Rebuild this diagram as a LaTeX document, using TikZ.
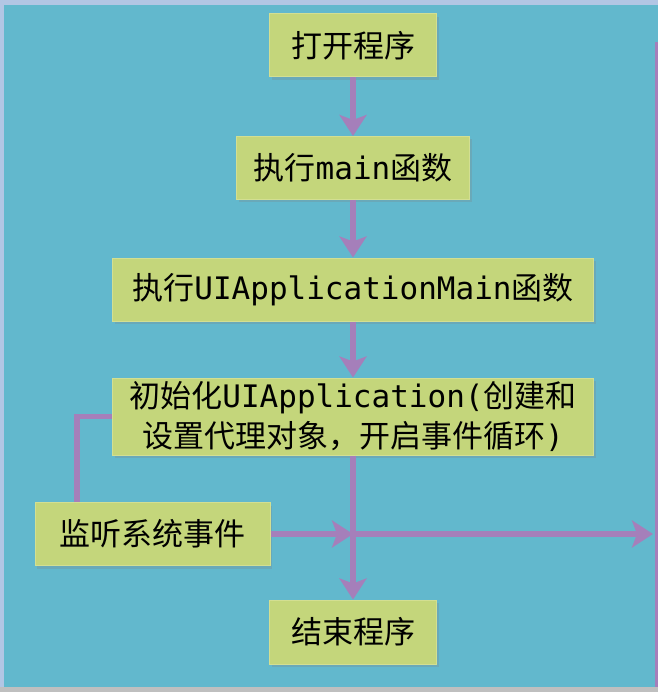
\documentclass[tikz,border=0pt]{standalone}
\usepackage{fontspec}
\setmainfont{Noto Sans CJK SC}
\setmonofont{DejaVu Sans Mono}
\usetikzlibrary{arrows.meta,shadows}

\definecolor{bgblue}{HTML}{62B8CD}
\definecolor{bgedge}{HTML}{B2C6E4}
\definecolor{boxfill}{HTML}{C4D67B}
\definecolor{boxline}{HTML}{D3DF92}
\definecolor{flowpurple}{HTML}{A57FBA}

\begin{document}
\begin{tikzpicture}[x=1pt,y=-1pt,>={Stealth[length=21pt,width=27pt,inset=5pt]}]

% ----------------------------
% Styles
% ----------------------------
\tikzset{
	stepbox/.style={draw=boxline,line width=1pt,fill=boxfill,inner sep=0pt,
		minimum height=63pt,align=center,text=black,
		font=\fontsize{31}{40}\selectfont,
		drop shadow={opacity=0.25,shadow xshift=2pt,shadow yshift=-3pt}},
	flow/.style={->,line width=5.5pt,draw=flowpurple},
	back/.style={line width=5.5pt,draw=flowpurple}
}

\useasboundingbox (0,0) rectangle (658,692);

% background panel
\fill[bgedge] (0,0) rectangle (658,692);
\fill[bgblue] (4,5) rectangle (658,687);
\fill[black!25] (0,687) rectangle (658,692);
\fill[flowpurple] (655,42) rectangle (658,687);

% ============================================================
% Steps
% ============================================================
\node[stepbox,minimum width=167pt] (open)   at (353,45.5)  {打开程序};
\node[stepbox,minimum width=233pt] (mainf)  at (353,168)   {执行\texttt{main}函数};
\node[stepbox,minimum width=481pt] (uiam)   at (353,289.5) {执行\texttt{UIApplicationMain}函数};
\node[stepbox,minimum width=481pt,minimum height=77pt] (init) at (353,416.5)
	{初始化\texttt{UIApplication(}创建和\\设置代理对象，开启事件循环\texttt{)}};
\node[stepbox,minimum width=235pt] (listen) at (152.5,534) {监听系统事件};
\node[stepbox,minimum width=167pt,minimum height=64pt] (quit) at (353,632) {结束程序};

% ============================================================
% Connectors
% ============================================================
\coordinate (cross) at (353,534);
\coordinate (exit)  at (653,534);
\coordinate (fb)    at (77,417);

\draw[flow] (open) -- (mainf);
\draw[flow] (mainf) -- (uiam);
\draw[flow] (uiam) -- (init);
\draw[flow] (init) -- (quit);
\draw[flow] (listen.east) -- (cross);
\draw[flow] (cross) -- (exit);

% event loop back to the application
\draw[back] (listen.north -| fb) |- (init.west);

\end{tikzpicture}
\end{document}
